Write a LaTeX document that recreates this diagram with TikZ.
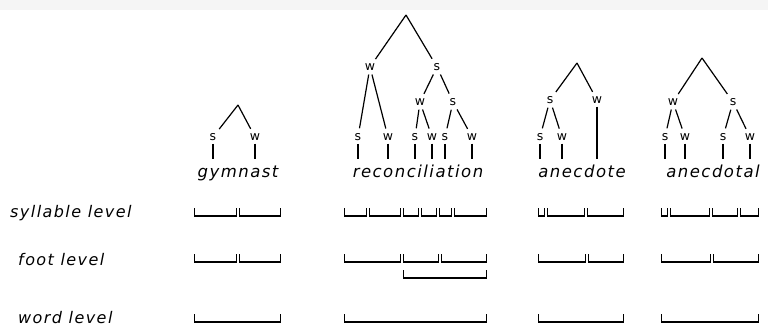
\documentclass[tikz,border=0pt]{standalone}
\usepackage{fontspec}
\setsansfont{DejaVu Sans}
\newfontfamily\handfont[LetterSpace=9]{DejaVu Sans}
\usetikzlibrary{positioning}

\begin{document}
\begin{tikzpicture}[
    x=1pt, y=-1pt,
    sw/.style={font=\fontsize{12.5}{13}\selectfont\sffamily, inner sep=1pt},
    word/.style={font=\fontsize{16.5}{18}\selectfont\handfont\itshape, anchor=base, text height=12pt, inner ysep=6pt, inner xsep=0pt},
    level/.style={font=\fontsize{16}{18}\selectfont\handfont\itshape, anchor=west, inner sep=0pt},
    branch/.style={line width=1.2pt, shorten >=4pt},
    subbranch/.style={branch, shorten <=3pt},
    stem/.style={line width=1.2pt, shorten <=2pt},
    bracket/.style={line width=1.2pt}
]
  \useasboundingbox (0,0) rectangle (768,327);
  \fill[gray!8] (0,0) rectangle (768,10);

  \node[level] (syl) at (10,213) {syllable level};
  \node[level] (foot) at (18,260) {foot level};
  \node[level] (wrd) at (18,318) {word level};

  % gymnast
  \coordinate (g-top) at (238,105);
  \node[sw] (g-s) at (213,137) {s};
  \node[sw] (g-w) at (255,137) {w};
  \node[word] (gym) at (238,177) {gymnast};
  \draw[branch] (g-top) -- (g-s);
  \draw[branch] (g-top) -- (g-w);
  \draw[stem] (g-s) -- (g-s |- gym.north);
  \draw[stem] (g-w) -- (g-w |- gym.north);

  % reconciliation
  \coordinate (r-top) at (406,15);
  \node[sw] (r-w) at (370,67) {w};
  \node[sw] (r-s) at (437,67) {s};
  \node[sw] (r-ws) at (358,137) {s};
  \node[sw] (r-ww) at (388,137) {w};
  \node[sw] (r-sw) at (420,102) {w};
  \node[sw] (r-ss) at (453,102) {s};
  \node[sw] (r-sws) at (415,137) {s};
  \node[sw] (r-sww) at (432,137) {w};
  \node[sw] (r-sss) at (445,137) {s};
  \node[sw] (r-ssw) at (472,137) {w};
  \node[word] (recon) at (418,177) {reconciliation};
  \draw[branch] (r-top) -- (r-w);
  \draw[branch] (r-top) -- (r-s);
  \draw[subbranch] (r-w) -- (r-ws);
  \draw[subbranch] (r-w) -- (r-ww);
  \draw[subbranch] (r-s) -- (r-sw);
  \draw[subbranch] (r-s) -- (r-ss);
  \draw[subbranch] (r-sw) -- (r-sws);
  \draw[subbranch] (r-sw) -- (r-sww);
  \draw[subbranch] (r-ss) -- (r-sss);
  \draw[subbranch] (r-ss) -- (r-ssw);
  \foreach \n in {r-ws,r-ww,r-sws,r-sww,r-sss,r-ssw}
    \draw[stem] (\n) -- (\n |- recon.north);

  % anecdote
  \coordinate (a-top) at (577,63);
  \node[sw] (a-s) at (550,100) {s};
  \node[sw] (a-w) at (597,100) {w};
  \node[sw] (a-ss) at (540,137) {s};
  \node[sw] (a-sw) at (562,137) {w};
  \node[word] (anec) at (582,177) {anecdote};
  \draw[branch] (a-top) -- (a-s);
  \draw[branch] (a-top) -- (a-w);
  \draw[subbranch] (a-s) -- (a-ss);
  \draw[subbranch] (a-s) -- (a-sw);
  \foreach \n in {a-ss,a-sw,a-w}
    \draw[stem] (\n) -- (\n |- anec.north);

  % anecdotal
  \coordinate (b-top) at (702,58);
  \node[sw] (b-w) at (673,102) {w};
  \node[sw] (b-s) at (733,102) {s};
  \node[sw] (b-ws) at (665,137) {s};
  \node[sw] (b-ww) at (685,137) {w};
  \node[sw] (b-ss) at (723,137) {s};
  \node[sw] (b-sw) at (750,137) {w};
  \node[word] (anecl) at (713,177) {anecdotal};
  \draw[branch] (b-top) -- (b-w);
  \draw[branch] (b-top) -- (b-s);
  \draw[subbranch] (b-w) -- (b-ws);
  \draw[subbranch] (b-w) -- (b-ww);
  \draw[subbranch] (b-s) -- (b-ss);
  \draw[subbranch] (b-s) -- (b-sw);
  \foreach \n in {b-ws,b-ww,b-ss,b-sw}
    \draw[stem] (\n) -- (\n |- anecl.north);

  % syllable level
  \foreach \a/\b in {193/238,238/282, 343/368,368/402,402/420,420/438,438/453,453/488,
                     537/546,546/586,586/625, 660/669,669/711,711/739,739/760}
    \draw[bracket] (\a+1.5,208) |- (\b-1.5,216) -- (\b-1.5,208);
  % foot level
  \foreach \a/\b in {193/238,238/282, 343/402,402/440,440/488, 537/587,587/625, 660/712,712/760}
    \draw[bracket] (\a+1.5,254) |- (\b-1.5,262) -- (\b-1.5,254);
  \draw[bracket] (403.5,270) |- (486.5,278) -- (486.5,270);
  % word level
  \foreach \a/\b in {193/282,343/488,537/625,660/760}
    \draw[bracket] (\a+1.5,314) |- (\b-1.5,322) -- (\b-1.5,314);
\end{tikzpicture}
\end{document}
